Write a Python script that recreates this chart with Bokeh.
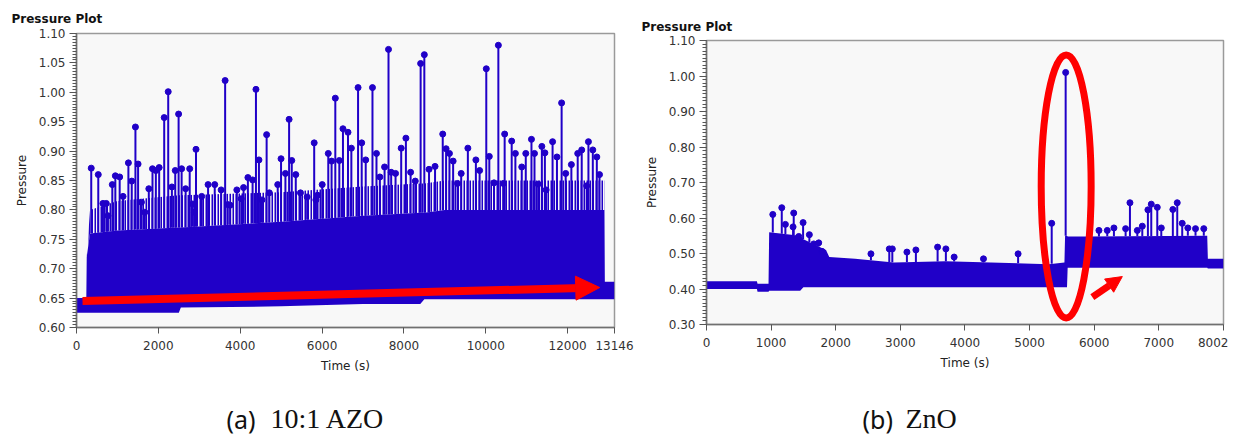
import numpy as np
from bokeh.plotting import figure
from bokeh.layouts import row, column
from bokeh.models import Range1d, FixedTicker, PrintfTickFormatter, Arrow, NormalHead
from bokeh.embed import file_html
from bokeh.resources import INLINE
from bokeh.core.properties import value

# ---------------- (a) 10:1 AZO ----------------
azo_x_ticks = [0, 2000, 4000, 6000, 8000, 10000, 12000, 13146]
azo_y_ticks = [0.60, 0.65, 0.70, 0.75, 0.80, 0.85, 0.90, 0.95, 1.00, 1.05, 1.10]
azo_band_t = [0, 240, 250, 330, 1000, 2500, 2550, 5000, 7000, 8400, 8500, 9000, 12900, 12910, 13146]
azo_band_lo = [0.625, 0.625, 0.625, 0.625, 0.625, 0.625, 0.634, 0.636, 0.640, 0.640, 0.648, 0.648, 0.648, 0.648, 0.648]
azo_band_hi = [0.650, 0.650, 0.720, 0.760, 0.765, 0.770, 0.770, 0.780, 0.790, 0.795, 0.795, 0.800, 0.800, 0.678, 0.678]
azo_stem_top = [0.650, 0.650, 0.720, 0.800, 0.815, 0.825, 0.825, 0.830, 0.840, 0.845, 0.845, 0.850, 0.850, 0.678, 0.678]
azo_spike_t = [360, 532, 646, 728, 769, 875, 949, 1055, 1137, 1268, 1350, 1440, 1505, 1587, 1669,
               1767, 1857, 1939, 2020, 2143, 2241, 2331, 2413, 2495, 2569, 2667, 2766, 2839, 2879,
               2920, 3059, 3215, 3378, 3534, 3632, 3697, 3755, 3918, 4025, 4082, 4188, 4303, 4385,
               4458, 4532, 4646, 4712, 4917, 4998, 5105, 5195, 5260, 5358, 5473, 5636, 5808, 5849,
               5890, 6004, 6152, 6233, 6324, 6422, 6511, 6634, 6716, 6880, 6969, 7067, 7232, 7330,
               7413, 7528, 7624, 7689, 7796, 7934, 8049, 8164, 8278, 8409, 8499, 8614, 8761, 8949,
               9031, 9113, 9203, 9310, 9400, 9563, 9759, 9850, 10013, 10087, 10202, 10308, 10430,
               10462, 10634, 10724, 10880, 10978, 11117, 11191, 11280, 11371, 11445, 11476, 11633,
               11740, 11854, 11953, 12092, 12247, 12345, 12466, 12509, 12616, 12714, 12780]
azo_spike_p = [0.871, 0.860, 0.811, 0.811, 0.790, 0.843, 0.858, 0.856, 0.823, 0.880, 0.849, 0.941, 0.878, 0.813, 0.796,
               0.836, 0.870, 0.867, 0.872, 0.957, 1.001, 0.839, 0.867, 0.963, 0.870, 0.836, 0.870, 0.810, 0.796,
               0.903, 0.823, 0.843, 0.843, 0.834, 1.020, 0.809, 0.808, 0.834, 0.819, 0.838, 0.855, 0.851, 1.005,
               0.885, 0.817, 0.928, 0.829, 0.843, 0.887, 0.862, 0.954, 0.884, 0.860, 0.829, 0.822, 0.914, 0.817,
               0.825, 0.843, 0.896, 0.883, 0.990, 0.884, 0.938, 0.932, 0.905, 1.008, 0.914, 0.885, 1.008, 0.896,
               0.856, 0.873, 1.073, 0.864, 0.862, 0.905, 0.922, 0.864, 0.849, 1.049, 1.064, 0.869, 0.874, 0.929,
               0.904, 0.896, 0.883, 0.845, 0.862, 0.905, 0.885, 0.867, 1.040, 0.891, 0.846, 1.080, 0.845,
               0.929, 0.917, 0.896, 0.873, 0.896, 0.920, 0.896, 0.844, 0.908, 0.897, 0.834, 0.916,
               0.890, 0.982, 0.862, 0.877, 0.896, 0.902, 0.841, 0.916, 0.902, 0.890, 0.860]
azo_arrow = dict(t0=147, p0=0.645, t1=12785, p1=0.668)

# ---------------- (b) ZnO ----------------
zno_x_ticks = [0, 1000, 2000, 3000, 4000, 5000, 6000, 7000, 8002]
zno_y_ticks = [0.30, 0.40, 0.50, 0.60, 0.70, 0.80, 0.90, 1.00, 1.10]
zno_band_t = [0, 780, 790, 960, 970, 1450, 1500, 1850, 1900, 2300, 2900, 3700, 5300, 5540, 5550, 5580, 5590, 5900, 7750, 7760, 8002]
zno_band_lo = [0.400, 0.400, 0.392, 0.392, 0.395, 0.395, 0.405, 0.405, 0.405, 0.405, 0.405, 0.405, 0.405, 0.405, 0.405, 0.405, 0.460, 0.460, 0.460, 0.458, 0.458]
zno_band_hi = [0.422, 0.422, 0.415, 0.415, 0.560, 0.550, 0.540, 0.510, 0.490, 0.485, 0.475, 0.478, 0.470, 0.475, 0.550, 0.550, 0.548, 0.548, 0.550, 0.485, 0.485]
zno_spike_t = [1026, 1165, 1221, 1340, 1350, 1428, 1495, 1592, 1660, 1737, 1788, 2545, 2829, 2876, 3102,
               3241, 3577, 3705, 3833, 4287, 4823, 5343, 5559, 6074, 6203, 6306, 6487, 6554, 6668,
               6745, 6832, 6884, 6977, 7039, 7218, 7286, 7363, 7450, 7569, 7697]
zno_spike_p = [0.610, 0.629, 0.582, 0.575, 0.614, 0.548, 0.587, 0.553, 0.527, 0.530, 0.506, 0.499, 0.513, 0.513, 0.504,
               0.510, 0.518, 0.513, 0.490, 0.485, 0.499, 0.585, 1.010, 0.565, 0.565, 0.572, 0.570, 0.643, 0.565,
               0.577, 0.623, 0.639, 0.630, 0.572, 0.624, 0.643, 0.585, 0.572, 0.570, 0.570]
zno_ellipse = dict(t=5567, p=0.689, w=773, h=0.741)
zno_arrow = dict(t0=5972, p0=0.377, t1=6436, p1=0.435)

captions = ["(a)", "10:1 AZO", "(b)", "ZnO"]

BLUE = "#2000C8"
RED = "#FF0000"
FONT = "DejaVu Sans"
TOP_H = 375
CAP_H = 63


def style(p, y_ticks, y_minor_step, x_ticks, title_standoff):
    p.background_fill_color = "#F8F8F8"
    p.border_fill_color = "white"
    p.outline_line_color = "#9a9a9a"
    p.outline_line_width = 1.5
    p.grid.visible = False
    p.title.text = "Pressure Plot"
    p.title.text_font = FONT
    p.title.text_font_size = "12px"
    p.title.text_font_style = "bold"
    p.title.text_color = "#111111"
    p.title.align = "left"
    p.title.offset = -65
    p.title.standoff = title_standoff
    ya = p.yaxis[0]
    minors = list(np.round(np.arange(y_ticks[0], y_ticks[-1] + 1e-9, y_minor_step), 4))
    ya.ticker = FixedTicker(ticks=y_ticks, minor_ticks=minors)
    ya.formatter = PrintfTickFormatter(format="%.2f")
    ya.axis_label = "Pressure"
    xa = p.xaxis[0]
    xa.ticker = FixedTicker(ticks=x_ticks, minor_ticks=[])
    xa.formatter = PrintfTickFormatter(format="%d")
    xa.axis_label = "Time (s)"
    for ax in (xa, ya):
        ax.axis_line_color = "#707070"
        ax.axis_line_width = 1.5
        ax.major_tick_line_color = "#555555"
        ax.minor_tick_line_color = "#555555"
        ax.major_label_text_font = FONT
        ax.major_label_text_font_size = "12px"
        ax.major_label_text_color = "#333333"
        ax.axis_label_text_font = FONT
        ax.axis_label_text_font_size = "12px"
        ax.axis_label_text_font_style = "normal"
        ax.axis_label_text_color = "#222222"
    ya.major_tick_out = 7
    ya.major_tick_in = 0
    ya.minor_tick_out = 4
    ya.minor_tick_in = 0
    ya.major_label_standoff = 4
    ya.axis_label_standoff = 7
    xa.major_tick_out = 6
    xa.major_tick_in = 0
    xa.major_label_standoff = 7
    xa.axis_label_standoff = 6


def draw_series(p, band_t, band_lo, band_hi, spike_t, spike_p):
    p.varea(x=band_t, y1=band_lo, y2=band_hi, fill_color=BLUE)
    st = np.array(spike_t, dtype=float)
    sp = np.array(spike_p, dtype=float)
    base = np.minimum(np.interp(st, band_t, band_hi), sp)
    p.segment(x0=st, y0=base, x1=st, y1=sp, line_color=BLUE, line_width=2)
    p.scatter(x=st, y=sp, size=6, marker="circle", fill_color=BLUE, line_color=BLUE)


# left figure: canvas x 0..640, frame 76..614 x 33..327
A_L, A_R, A_T, A_B = 76, 614, 33, 327
pa = figure(width=640, height=TOP_H, output_backend="svg", toolbar_location=None,
            x_range=Range1d(0, azo_x_ticks[-1]), y_range=Range1d(azo_y_ticks[0], azo_y_ticks[-1]),
            min_border_left=A_L, min_border_right=640 - A_R, min_border_top=A_T,
            min_border_bottom=TOP_H - A_B, frame_align=False)
style(pa, azo_y_ticks, 0.005, azo_x_ticks, 15)
pa.varea(x=azo_band_t, y1=azo_band_hi, y2=azo_stem_top, fill_color=None,
         hatch_pattern="vertical_line", hatch_color=BLUE, hatch_weight=2, hatch_scale=3)
draw_series(pa, azo_band_t, azo_band_lo, azo_band_hi, azo_spike_t, azo_spike_p)
pa.add_layout(Arrow(end=NormalHead(size=24, fill_color=RED, line_color=RED, line_width=1),
                    x_start=azo_arrow["t0"], y_start=azo_arrow["p0"],
                    x_end=azo_arrow["t1"], y_end=azo_arrow["p1"],
                    line_color=RED, line_width=8))

# right figure: canvas x 640..1228, frame 706..1223 x 40..324
B_L, B_R, B_T, B_B = 706 - 640, 1223 - 640, 40, 324
pb = figure(width=588, height=TOP_H, output_backend="svg", toolbar_location=None,
            x_range=Range1d(0, zno_x_ticks[-1]), y_range=Range1d(zno_y_ticks[0], zno_y_ticks[-1]),
            min_border_left=B_L, min_border_right=588 - B_R, min_border_top=B_T,
            min_border_bottom=TOP_H - B_B, frame_align=False)
style(pb, zno_y_ticks, 0.01, zno_x_ticks, 13)
draw_series(pb, zno_band_t, zno_band_lo, zno_band_hi, zno_spike_t, zno_spike_p)
pb.ellipse(x=[zno_ellipse["t"]], y=[zno_ellipse["p"]], width=[zno_ellipse["w"]],
           height=[zno_ellipse["h"]], fill_alpha=0, line_color=RED, line_width=7)
pb.add_layout(Arrow(end=NormalHead(size=16, fill_color=RED, line_color=RED, line_width=1),
                    x_start=zno_arrow["t0"], y_start=zno_arrow["p0"],
                    x_end=zno_arrow["t1"], y_end=zno_arrow["p1"],
                    line_color=RED, line_width=7))

# caption strip: canvas y 375..438, data y measured upward from its bottom edge
pc = figure(width=1228, height=CAP_H, output_backend="svg", toolbar_location=None, title=None,
            x_range=Range1d(0, 1228), y_range=Range1d(0, CAP_H),
            x_axis_location=None, y_axis_location=None, min_border=0, frame_align=False)
pc.outline_line_color = None
pc.grid.visible = False
pc.background_fill_color = "white"
cap_base = TOP_H + CAP_H - 418  # baseline anchor at canvas row 418
pc.text(x=[226, 862], y=[cap_base, cap_base], text=[captions[0], captions[2]],
        text_font=value("Noto Sans"), text_font_size=value("25px"),
        text_color="#111111", text_baseline="alphabetic", text_align="left")
pc.text(x=[270, 905], y=[cap_base, cap_base], text=[captions[1], captions[3]],
        text_font=value("Liberation Serif"), text_font_size=value("28px"),
        text_color="#111111", text_baseline="alphabetic", text_align="left")

layout = column(row(pa, pb), pc)
open("out.html", "w").write(file_html(layout, INLINE))
